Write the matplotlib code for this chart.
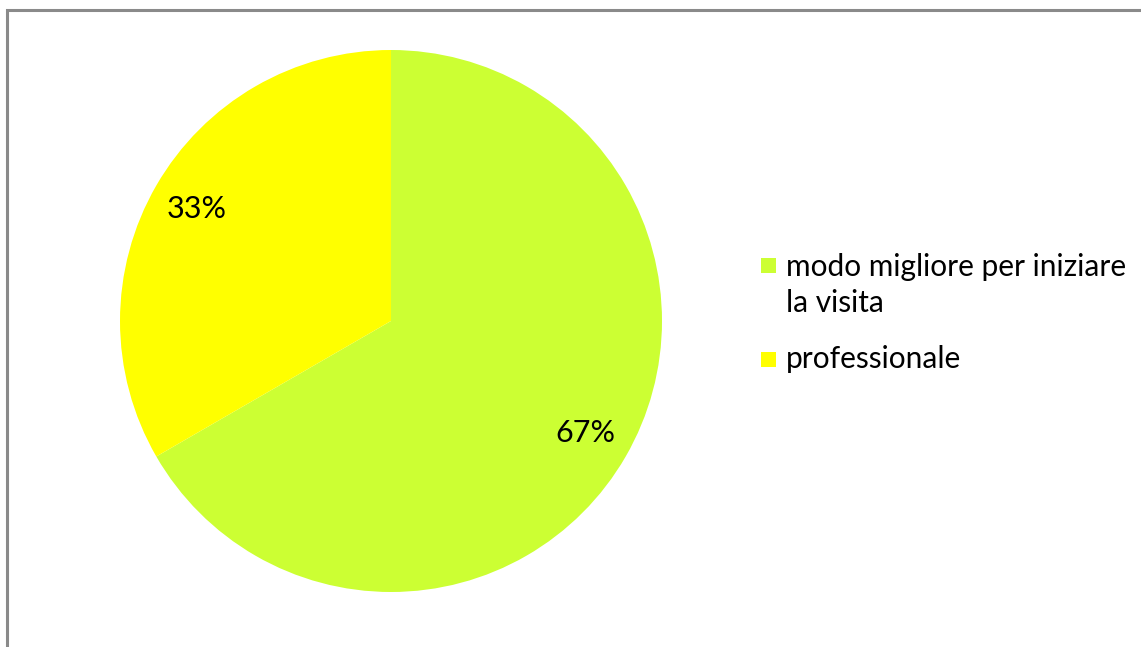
import matplotlib
matplotlib.use('Agg')
import matplotlib.pyplot as plt
from matplotlib.patches import Rectangle

labels = ['modo migliore per iniziare\nla visita', 'professionale']
values = [2, 1]
colors = ['#CCFF33', '#FFFF00']

plt.rcParams['font.family'] = ['Lato', 'DejaVu Sans']

W, H = 1141, 647
fig = plt.figure(figsize=(W / 100, H / 100), dpi=100)

# outer frame, cut off at right and bottom
fig.patches.append(Rectangle((6.5 / W, -0.1), 1.2, (H - 10) / H + 0.1,
                             transform=fig.transFigure, fill=False,
                             edgecolor='#8a8a8a', linewidth=2.2))

cx, cy, r = 391, 321, 271
ax = fig.add_axes([(cx - r) / W, (H - cy - r) / H, 2 * r / W, 2 * r / H])
wedges, texts, autotexts = ax.pie(values, colors=colors, startangle=90, counterclock=False,
                                  autopct='%1.0f%%', pctdistance=0.83, radius=1,
                                  textprops={'fontsize': 22, 'color': 'black'})
ax.set_xlim(-1, 1)
ax.set_ylim(-1, 1)
ax.set_aspect('equal')

# legend drawn by hand so line spacing matches
entry_y = [266, 360]      # marker centres (px from top)
text_top = [253, 345]     # top of first text line (px from top)
for lab, col, my, ty in zip(labels, colors, entry_y, text_top):
    fig.patches.append(Rectangle((761 / W, 1 - (my + 7) / H), 15 / W, 15 / H,
                                 transform=fig.transFigure, facecolor=col, edgecolor='none'))
    fig.text(786 / W, 1 - ty / H, lab, fontsize=21.5, va='top', ha='left',
             linespacing=1.36)

plt.savefig('out.png', dpi=100)
